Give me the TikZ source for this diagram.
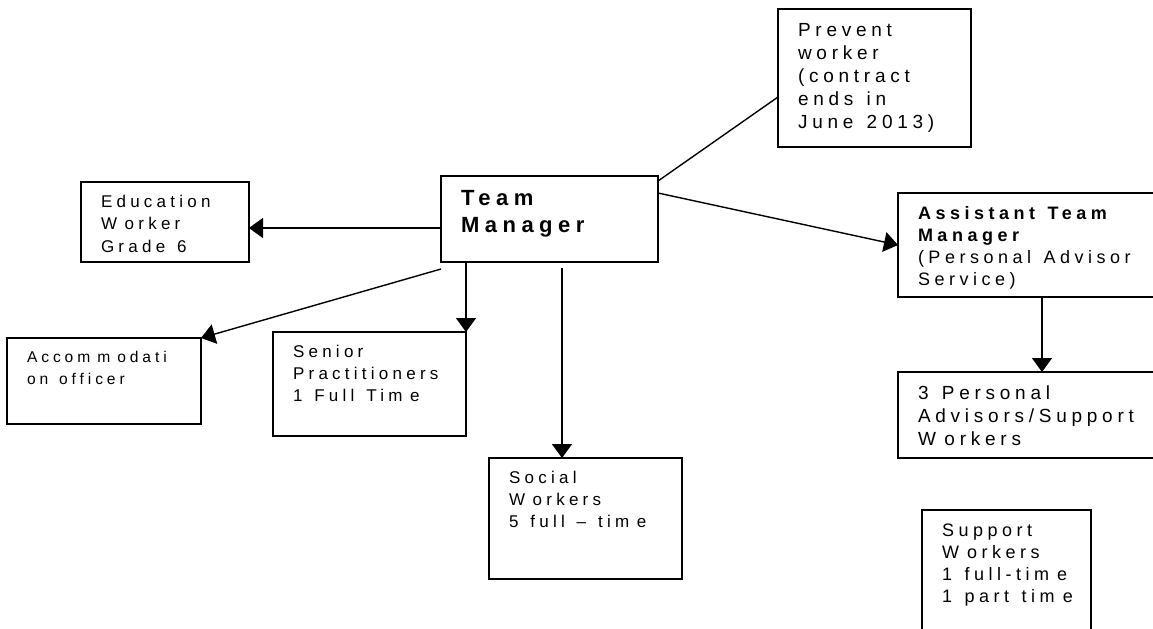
\documentclass[tikz,border=0pt]{standalone}
\usepackage{fontspec}
\usepackage{tikz}
\usetikzlibrary{arrows.meta}

\newfontfamily\orgfont{Liberation Sans}[LetterSpace=25]
\newcommand{\brk}{\nobreak\hspace{0.45em}\nobreak}
\hyphenpenalty=10000
\exhyphenpenalty=10000

\begin{document}
\begin{tikzpicture}[x=0.5pt,y=-0.5pt]
	\tikzset{orgbox/.style={draw,line width=0.8pt,anchor=north west,outer sep=0pt,inner xsep=10pt,inner ysep=0pt,align=left,font=\orgfont\fontsize{9}{11}\selectfont,execute at begin node={\spaceskip=0.7em\relax}}}
	\tikzset{link/.style={line width=0.7pt}}
	\tikzset{arr/.style={link,-{Triangle[length=7pt,width=10pt]}}}
	\useasboundingbox (0,0) rectangle (1153,628);
	\clip (0,0) rectangle (1153,628);
	% boxes
	\node[orgbox,text width=76.5pt,text height=13.5pt,text depth=55.5pt,font=\orgfont\fontsize{9.5}{11.5}\selectfont] (prevent) at (778,9) {Prevent\\worker\\(contract\\ends~in\\June~2013)};
	\node[orgbox,text width=88.5pt,text height=14.5pt,text depth=28.5pt,font=\orgfont\bfseries\fontsize{11}{13.5}\selectfont] (tm) at (441,176) {Team\\Manager};
	\node[orgbox,text width=64pt,text height=12.5pt,text depth=27.5pt,font=\orgfont\fontsize{8.5}{11.25}\selectfont] (edu) at (81,182) {Education\\W\brk orker\\Grade~6};
	\node[orgbox,text width=130pt,text height=13pt,text depth=39pt] (atm) at (898,193) {\textbf{Assistant~Team}\\\textbf{Manager}\\(Personal~Advisor\\Service)};
	\node[orgbox,text width=77pt,text height=12pt,text depth=31pt,font=\orgfont\fontsize{7.8}{11}\selectfont] (acc) at (7,338) {Accom\brk m\brk odati\\on~officer};
	\node[orgbox,text width=76.5pt,text height=12.5pt,text depth=39.5pt,font=\orgfont\fontsize{8.5}{11}\selectfont] (sen) at (273,332) {Senior\\Practitioners\\1~Full~Tim\brk e};
	\node[orgbox,text width=76.5pt,text height=12.5pt,text depth=48pt,font=\orgfont\fontsize{8.5}{11}\selectfont] (soc) at (489,458) {Social\\W\brk orkers\\5~full~–~tim\brk e};
	\node[orgbox,text width=130pt,text height=13.5pt,text depth=29.5pt,font=\orgfont\fontsize{9.5}{11.5}\selectfont] (pa) at (898,372) {3~Personal\\Advisors/Support\\W\brk orkers};
	\node[orgbox,text width=64.5pt,text height=13pt,text depth=62pt] (sup) at (922,510) {Support\\W\brk orkers\\1~full-tim\brk e\\1~part~tim\brk e};
	% links
	\coordinate (tmsoc) at (562,268);
	\draw[link] (tm.north east |- 0,181) -- (prevent.west |- 0,97);
	\draw[arr] (tm.west |- 0,228) -- (edu.east |- 0,228);
	\draw[arr] ([yshift=-3.5pt]tm.south west) -- (acc.north east);
	\draw[arr] (sen.north east |- tm.south) -- (sen.north east);
	\draw[arr] (tmsoc) -- (tmsoc |- soc.north);
	\draw[arr] (tm.north east |- 0,193) -- (atm.west);
	\draw[arr] (atm.south -| 1042,0) -- (pa.north -| 1042,0);
\end{tikzpicture}
\end{document}
